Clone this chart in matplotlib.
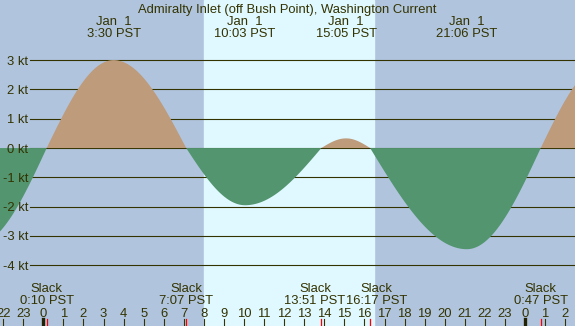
import numpy as np
import matplotlib
matplotlib.use("Agg")
import matplotlib.pyplot as plt
from matplotlib import transforms

W, H = 575, 326

title = "Admiralty Inlet (off Bush Point), Washington Current"

# current events (hours from midnight Jan 1, knots); first and last are off-chart
event_hours = [-3.35, 0.167, 3.5, 7.117, 10.05, 13.85, 15.083, 16.283, 21.1, 24.783, 28.0]
event_knots = [-3.3, 0.0, 3.0, 0.0, -1.95, 0.0, 0.33, 0.0, -3.45, 0.0, 2.9]

max_hours = [3.5, 10.05, 15.083, 21.1]
max_labels = ["3:30 PST", "10:03 PST", "15:05 PST", "21:06 PST"]
slack_hours = [0.167, 7.117, 13.85, 16.283, 24.783]
slack_labels = ["0:10 PST", "7:07 PST", "13:51 PST", "16:17 PST", "0:47 PST"]

sunrise, sunset = 7.98, 16.48
kt_levels = [3, 2, 1, 0, -1, -2, -3, -4]
hour_ticks = list(range(-2, 27))
midnights = [0, 24]

x_lo, x_hi = -2.16, 26.49
y_lo, y_hi = -6.07, 5.05

night = "#b0c4de"
day = "#e0f8ff"
flood = "#bd9b7b"
ebb = "#52956f"
ink = "#333300"


def curve(t):
    v = np.zeros_like(t)
    for i in range(len(event_hours) - 1):
        t0, t1 = event_hours[i], event_hours[i + 1]
        a, b = event_knots[i], event_knots[i + 1]
        m = (t >= t0) & (t <= t1)
        f = (t[m] - t0) / (t1 - t0)
        if a == 0:
            v[m] = b * np.sin(np.pi / 2 * f)
        else:
            v[m] = a * np.cos(np.pi / 2 * f)
    return v


plt.rcParams['font.family'] = ['Liberation Sans', 'DejaVu Sans']
fig = plt.figure(figsize=(W / 100, H / 100), dpi=100)
fig.patch.set_facecolor(night)
ax = fig.add_axes([0, 0, 1, 1])
ax.set_facecolor(night)
ax.set_xlim(x_lo, x_hi)
ax.set_ylim(y_lo, y_hi)
ax.axis('off')

ax.axvspan(sunrise, sunset, color=day, zorder=0)

for k in kt_levels:
    ax.axhline(k, xmin=30 / W, xmax=1, color=ink, lw=0.8, zorder=1)

t = np.linspace(x_lo, x_hi, 3000)
v = curve(t)
ax.fill_between(t, 0, v, where=v >= 0, interpolate=True, color=flood, lw=0, zorder=2)
ax.fill_between(t, 0, v, where=v <= 0, interpolate=True, color=ebb, lw=0, zorder=2)

bx = transforms.blended_transform_factory(ax.transData, ax.transAxes)


def ypx(p):
    return 1 - p / H


fs = 9.4
ax.text(0.5 * (x_lo + x_hi), ypx(13), title, transform=bx, ha='center',
        va='baseline', fontsize=fs, color=ink)

for h, lab in zip(max_hours, max_labels):
    ax.text(h, ypx(25), "Jan  1", transform=bx, ha='center', va='baseline', fontsize=fs, color=ink)
    ax.text(h, ypx(37), lab, transform=bx, ha='center', va='baseline', fontsize=fs, color=ink)

# slack labels, pushed apart when neighbours would collide
renderer = fig.canvas.get_renderer()
groups = []
for h, lab in zip(slack_hours, slack_labels):
    a = ax.text(h, ypx(292), "Slack", transform=bx, ha='center', va='baseline', fontsize=fs, color=ink)
    b = ax.text(h, ypx(304), lab, transform=bx, ha='center', va='baseline', fontsize=fs, color=ink)
    groups.append((h, a, b))
px_per_h = W / (x_hi - x_lo)
for i in range(len(groups) - 1):
    h0, a0, b0 = groups[i]
    h1, a1, b1 = groups[i + 1]
    w0 = b0.get_window_extent(renderer).width
    w1 = b1.get_window_extent(renderer).width
    need = (w0 + w1) / 2 / px_per_h
    gap = h1 - h0
    if gap < need:
        shift = (need - gap) / 2
        for txt in (a0, b0):
            txt.set_x(h0 - shift)
        for txt in (a1, b1):
            txt.set_x(h1 + shift)

ylab = transforms.offset_copy(
    transforms.blended_transform_factory(ax.transAxes, ax.transData),
    fig=fig, y=-4.5, units='dots')
for k in kt_levels:
    ax.text(28 / W, k, "%d kt" % k, transform=ylab, ha='right', va='baseline',
            fontsize=fs, color=ink)

for h in hour_ticks:
    ax.text(h, ypx(317), str(h % 24), transform=bx, ha='center', va='baseline',
            fontsize=fs, color=ink)
    ax.axvline(h, ymin=0, ymax=7 / H, color=ink, lw=0.8, zorder=3)

for h in midnights:
    ax.axvline(h, ymin=0, ymax=7 / H, color='#222200', lw=2.4, zorder=3)

for h in slack_hours:
    ax.axvline(h, ymin=0, ymax=7 / H, color='red', lw=0.9, zorder=3)

fig.savefig("out.png", dpi=100, facecolor=night)
